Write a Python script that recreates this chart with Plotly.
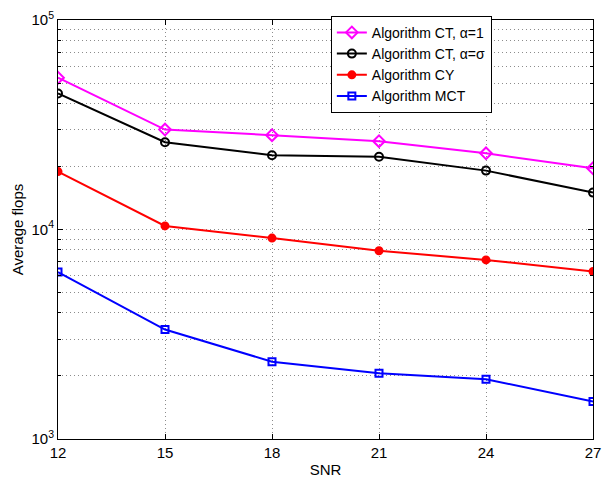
import plotly.graph_objects as go

snr = [12, 15, 18, 21, 24, 27]
ct_alpha1 = [53000, 30000, 28200, 26400, 23100, 19600]
ct_alpha_sigma = [44600, 26100, 22600, 22250, 19100, 15000]
cy = [18900, 10400, 9100, 7920, 7160, 6300]
mct = [6260, 3330, 2340, 2060, 1930, 1510]

series_names = ["Algorithm CT, \u03b1=1", "Algorithm CT, \u03b1=\u03c3", "Algorithm CY", "Algorithm MCT"]
x_ticks = [12, 15, 18, 21, 24, 27]
y_major = [1000, 10000, 100000]
y_major_text = ["10<sup>3</sup>", "10<sup>4</sup>", "10<sup>5</sup>"]
y_minor = [m * 10 ** e for e in (3, 4) for m in range(2, 10)]

fig = go.Figure()
styles = [
    (ct_alpha1, "#ff00ff", "diamond-open", 9),
    (ct_alpha_sigma, "#000000", "circle-open", 8),
    (cy, "#ff0000", "circle", 7),
    (mct, "#0000ff", "square-open", 7),
]
for name, (vals, col, sym, sz) in zip(series_names, styles):
    fig.add_trace(go.Scatter(
        x=snr, y=vals, name=name, mode="lines+markers",
        line=dict(color=col, width=2),
        marker=dict(symbol=sym, size=sz, color=col, line=dict(color=col, width=2)),
    ))

font = "Liberation Sans, Arial, Helvetica, sans-serif"
grid_col = "rgba(0,0,0,0.45)"
grid_dash = "1px,3px"
fig.update_layout(
    width=610, height=485,
    margin=dict(l=58, r=9, t=13, b=44),
    paper_bgcolor="white", plot_bgcolor="white",
    font=dict(family=font, size=15, color="black"),
    showlegend=True,
    legend=dict(
        x=0.51, y=1.01, xanchor="left", yanchor="top",
        bgcolor="white", bordercolor="black", borderwidth=1,
        font=dict(family=font, size=14, color="black"),
        tracegroupgap=0, itemwidth=30,
    ),
)
fig.update_xaxes(
    range=[12, 27], tickvals=x_ticks, ticktext=[str(t) for t in x_ticks],
    showline=True, linecolor="black", linewidth=1, mirror="ticks",
    ticks="inside", ticklen=5, tickcolor="black",
    showgrid=True, gridcolor=grid_col, griddash=grid_dash, gridwidth=1,
    zeroline=False,
    title=dict(text="SNR", standoff=4, font=dict(size=15)),
)
fig.update_yaxes(
    type="log", range=[3, 5], tickvals=y_major, ticktext=y_major_text,
    showline=True, linecolor="black", linewidth=1, mirror="ticks",
    ticks="inside", ticklen=5, tickcolor="black",
    showgrid=True, gridcolor=grid_col, griddash=grid_dash, gridwidth=1,
    minor=dict(tickmode="array", tickvals=y_minor, ticks="inside", ticklen=3,
               tickcolor="black", showgrid=True, gridcolor=grid_col,
               griddash=grid_dash, gridwidth=1),
    zeroline=False,
    title=dict(text="Average flops", standoff=4, font=dict(size=15)),
)

fig.write_html("out.html")
